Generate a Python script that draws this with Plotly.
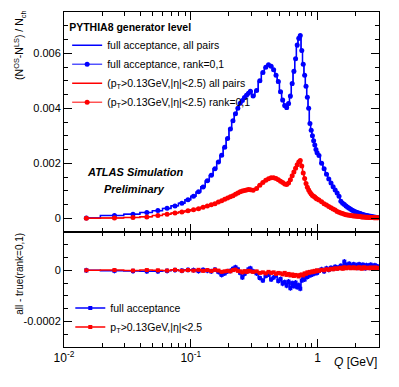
import plotly.graph_objects as go

# ---------------- data ----------------
q_bins = [0.015, 0.025, 0.035, 0.045, 0.055, 0.065, 0.075, 0.085, 0.095,
          0.105, 0.115, 0.125, 0.135, 0.145, 0.155, 0.165, 0.175, 0.185, 0.195,
          0.205, 0.215, 0.225, 0.235, 0.245, 0.255, 0.265, 0.275, 0.285, 0.295,
          0.31, 0.33, 0.35, 0.37, 0.39, 0.41, 0.43, 0.45, 0.47, 0.49,
          0.51, 0.53, 0.55, 0.57, 0.59, 0.61, 0.63, 0.65, 0.67, 0.69,
          0.71, 0.73, 0.75, 0.77, 0.79, 0.81, 0.83, 0.85, 0.87, 0.89,
          0.91, 0.93, 0.95, 0.97, 0.99,
          1.025, 1.075, 1.125, 1.175, 1.225, 1.275, 1.325, 1.375, 1.425, 1.475,
          1.525, 1.575, 1.625, 1.675, 1.725, 1.775, 1.825, 1.875, 1.925, 1.975,
          2.025, 2.075, 2.125, 2.175, 2.225, 2.275, 2.325, 2.375, 2.425, 2.475,
          2.525, 2.575, 2.625, 2.675, 2.725, 2.775, 2.825, 2.875, 2.925, 2.975]

full_rank01 = [0.00001, 0.00010, 0.00015, 0.00021, 0.00028, 0.00036, 0.00045, 0.00055, 0.00067,
               0.00080, 0.00096, 0.00114, 0.00136, 0.00156, 0.00180, 0.00205, 0.00229, 0.00258, 0.00290,
               0.00325, 0.00355, 0.00380, 0.00400, 0.00418, 0.00428, 0.00439, 0.00447, 0.00455, 0.00462,
               0.00445, 0.00465, 0.00500, 0.00530, 0.00549, 0.00558, 0.00553, 0.00540, 0.00520, 0.00497,
               0.00460, 0.00430, 0.00410, 0.00403, 0.00417, 0.00445, 0.00490, 0.00535, 0.00580, 0.00630,
               0.00655, 0.00665, 0.00610, 0.00560, 0.00520, 0.00480, 0.00440, 0.00400, 0.00345, 0.00320,
               0.00300, 0.00282, 0.00266, 0.00250, 0.00238,
               0.00228, 0.00200, 0.00180, 0.00160, 0.00143, 0.00128, 0.00115, 0.00103, 0.00092, 0.00080,
               0.00062, 0.00055, 0.00050, 0.00045, 0.00040, 0.00036, 0.00033, 0.00029, 0.00026, 0.00024,
               0.00022, 0.00020, 0.00018, 0.00017, 0.00015, 0.00014, 0.00012, 0.00011, 0.00010, 0.00009,
               0.00008, 0.00007, 0.00007, 0.00006, 0.00005, 0.00005, 0.00004, 0.00004, 0.00003, 0.00003]

cut_rank01 = [0.00000, 0.00001, 0.00003, 0.00005, 0.00010, 0.00015, 0.00019, 0.00023, 0.00027,
              0.00031, 0.00035, 0.00040, 0.00045, 0.00049, 0.00053, 0.00059, 0.00064, 0.00069, 0.00074,
              0.00078, 0.00082, 0.00087, 0.00092, 0.00096, 0.00099, 0.00101, 0.00103, 0.00105, 0.00104,
              0.00102, 0.00108, 0.00120, 0.00130, 0.00138, 0.00144, 0.00147, 0.00147, 0.00145, 0.00140,
              0.00135, 0.00130, 0.00125, 0.00123, 0.00128, 0.00140, 0.00155, 0.00168, 0.00182, 0.00195,
              0.00205, 0.00210, 0.00190, 0.00165, 0.00145, 0.00126, 0.00113, 0.00103, 0.00095, 0.00088,
              0.00083, 0.00080, 0.00077, 0.00073, 0.00070,
              0.00066, 0.00060, 0.00053, 0.00048, 0.00043, 0.00038, 0.00034, 0.00030, 0.00025, 0.00022,
              0.00019, 0.00017, 0.00015, 0.00013, 0.00012, 0.00011, 0.00010, 0.00009, 0.00008, 0.00008,
              0.00007, 0.00007, 0.00006, 0.00006, 0.00005, 0.00005, 0.00005, 0.00004, 0.00004, 0.00004,
              0.00003, 0.00003, 0.00003, 0.00003, 0.00003, 0.00002, 0.00002, 0.00002, 0.00002, 0.00002]

# all pairs minus true (rank=0,1)
full_diff = [0.0, -0.000002, -0.000003, -0.000004, -0.000004, -0.000002, 0.000001, -0.000001, 0.000002,
             0.000001, -0.000003, 0.000002, -0.000001, -0.000004, 0.000003, -0.000006, -0.000018, -0.000012, -0.000004,
             -0.000002, 0.000006, 0.000012, 0.000004, -0.000010, -0.000028, -0.000014, -0.000006, 0.000004, 0.000008,
             -0.000004, -0.000012, -0.000030, -0.000040, -0.000022, -0.000016, -0.000036, -0.000028, -0.000020, -0.000042,
             -0.000034, -0.000052, -0.000046, -0.000060, -0.000044, -0.000070, -0.000050, -0.000062, -0.000048, -0.000066,
             -0.000058, -0.000072, -0.000040, -0.000030, -0.000036, -0.000022, -0.000026, -0.000014, -0.000020, -0.000010,
             -0.000016, -0.000008, -0.000012, -0.000004, -0.000010,
             -0.000002, 0.000004, -0.000004, 0.000008, 0.000002, 0.000010, 0.000006, 0.000014, 0.000008, 0.000012,
             0.000018, 0.000010, 0.000034, 0.000022, 0.000016, 0.000026, 0.000012, 0.000020, 0.000024, 0.000014,
             0.000020, 0.000010, 0.000024, 0.000016, 0.000012, 0.000022, 0.000018, 0.000008, 0.000020, 0.000014,
             0.000018, 0.000010, 0.000022, 0.000014, 0.000016, 0.000008, 0.000020, 0.000012, 0.000016, 0.000014]

cut_diff = [0.0, 0.000001, -0.000001, 0.000001, 0.0, -0.000001, 0.000002, -0.000002, 0.000001,
            -0.000001, 0.000002, -0.000002, 0.000001, -0.000003, 0.000002, -0.000001, -0.000006, -0.000004, -0.000002,
            -0.000004, 0.000001, 0.000003, -0.000002, -0.000004, -0.000008, -0.000003, -0.000006, -0.000002, -0.000004,
            -0.000006, -0.000004, -0.000010, -0.000008, -0.000012, -0.000006, -0.000010, -0.000008, -0.000014, -0.000010,
            -0.000012, -0.000016, -0.000010, -0.000018, -0.000014, -0.000020, -0.000016, -0.000022, -0.000018, -0.000020,
            -0.000024, -0.000018, -0.000016, -0.000020, -0.000012, -0.000014, -0.000008, -0.000010, -0.000006, -0.000008,
            -0.000004, -0.000006, -0.000002, -0.000004, 0.0,
            -0.000002, 0.000002, 0.0, 0.000004, 0.000002, 0.000006, 0.000004, 0.000008, 0.000006, 0.000008,
            0.000010, 0.000006, 0.000012, 0.000008, 0.000010, 0.000012, 0.000008, 0.000010, 0.000012, 0.000008,
            0.000010, 0.000008, 0.000012, 0.000010, 0.000006, 0.000010, 0.000012, 0.000008, 0.000010, 0.000009,
            0.000010, 0.000008, 0.000011, 0.000009, 0.000010, 0.000008, 0.000011, 0.000010, 0.000009, 0.000010]

full_diff_err = 0.000010
cut_diff_err = 0.000006

full_allpairs = [r + d for r, d in zip(full_rank01, full_diff)]
cut_allpairs = [r + d for r, d in zip(cut_rank01, cut_diff)]

x_major = [0.01, 0.1, 1]
x_major_text = ["10<sup>-2</sup>", "10<sup>-1</sup>", "1"]
x_minor = [0.02, 0.03, 0.04, 0.05, 0.06, 0.07, 0.08, 0.09,
           0.2, 0.3, 0.4, 0.5, 0.6, 0.7, 0.8, 0.9, 2, 3]
top_y_major = [0, 0.002, 0.004, 0.006]
top_y_text = ["0", "0.002", "0.004", "0.006"]
top_y_minor = [-0.0005, 0.0005, 0.001, 0.0015, 0.0025, 0.003, 0.0035,
               0.0045, 0.005, 0.0055, 0.0065, 0.007, 0.0075]
bot_y_major = [-0.0002, 0]
bot_y_text = ["-0.0002", "0"]
bot_y_minor = [-0.0003, -0.00025, -0.00015, -0.0001, -0.00005, 0.00005, 0.0001, 0.00015]

BLUE = "#0000ff"
RED = "#ff0000"
FONT = "Liberation Sans, Arial, sans-serif"

fig = go.Figure()

# ---- top panel ----
fig.add_trace(go.Scatter(x=q_bins, y=full_allpairs, mode="lines", line=dict(color=BLUE, width=1.5, shape="hvh"),
                         name="full acceptance, all pairs", xaxis="x2", yaxis="y2", legend="legend"))
fig.add_trace(go.Scatter(x=q_bins, y=full_rank01, mode="lines+markers", line=dict(color=BLUE, width=1, shape="hvh"),
                         marker=dict(color=BLUE, size=5), name="full acceptance, rank=0,1",
                         xaxis="x2", yaxis="y2", legend="legend"))
fig.add_trace(go.Scatter(x=q_bins, y=cut_allpairs, mode="lines", line=dict(color=RED, width=1.5, shape="hvh"),
                         name="(p<sub>T</sub>>0.13GeV,|η|<2.5) all pairs", xaxis="x2", yaxis="y2", legend="legend"))
fig.add_trace(go.Scatter(x=q_bins, y=cut_rank01, mode="lines+markers", line=dict(color=RED, width=1, shape="hvh"),
                         marker=dict(color=RED, size=5), name="(p<sub>T</sub>>0.13GeV,|η|<2.5) rank=0,1",
                         xaxis="x2", yaxis="y2", legend="legend"))

# ---- bottom panel ----
fig.add_trace(go.Scatter(x=q_bins, y=full_diff, mode="lines+markers", line=dict(color=BLUE, width=1.5, shape="hvh"),
                         marker=dict(color=BLUE, size=4, symbol="square"),
                         error_y=dict(type="constant", value=full_diff_err, color=BLUE, thickness=1.2, width=0),
                         name="full acceptance", xaxis="x", yaxis="y", legend="legend2"))
fig.add_trace(go.Scatter(x=q_bins, y=cut_diff, mode="lines+markers", line=dict(color=RED, width=1.5, shape="hvh"),
                         marker=dict(color=RED, size=4, symbol="square"),
                         error_y=dict(type="constant", value=cut_diff_err, color=RED, thickness=1.2, width=0),
                         name="p<sub>T</sub>>0.13GeV,|η|<2.5", xaxis="x", yaxis="y", legend="legend2"))

axis_common = dict(showline=True, linecolor="black", linewidth=1, mirror="ticks", ticks="inside",
                   tickcolor="black", showgrid=False, zeroline=False)

split = 115 / 335

fig.update_layout(
    width=399, height=387,
    margin=dict(l=64, r=20, t=12, b=40),
    paper_bgcolor="white", plot_bgcolor="white",
    font=dict(family=FONT, size=11, color="black"),
    xaxis=dict(type="log", range=[-2, 0.484], domain=[0, 1], anchor="y",
               tickmode="array", tickvals=x_major, ticktext=x_major_text, ticklen=8,
               tickfont=dict(size=12),
               minor=dict(tickmode="array", tickvals=x_minor, ticks="inside", ticklen=4, tickcolor="black"),
               **axis_common),
    xaxis2=dict(type="log", range=[-2, 0.484], domain=[0, 1], anchor="y2", matches="x",
                tickmode="array", tickvals=x_major, showticklabels=False, ticklen=8,
                minor=dict(tickmode="array", tickvals=x_minor, ticks="inside", ticklen=4, tickcolor="black"),
                **axis_common),
    yaxis=dict(domain=[0, split], range=[-0.0003, 0.00015], anchor="x",
               tickmode="array", tickvals=bot_y_major, ticktext=bot_y_text, ticklen=8,
               minor=dict(tickmode="array", tickvals=bot_y_minor, ticks="inside", ticklen=4, tickcolor="black"),
               **axis_common),
    yaxis2=dict(domain=[split, 1], range=[-0.0005, 0.0075], anchor="x2",
                tickmode="array", tickvals=top_y_major, ticktext=top_y_text, ticklen=8,
                minor=dict(tickmode="array", tickvals=top_y_minor, ticks="inside", ticklen=4, tickcolor="black"),
                **axis_common),
    legend=dict(x=0.01, y=0.985, xanchor="left", yanchor="top", bgcolor="rgba(0,0,0,0)",
                font=dict(size=10.5, family=FONT),
                title=dict(text="<b>PYTHIA8 generator level</b>", font=dict(size=10.5, family=FONT)),
                tracegroupgap=0),
    legend2=dict(x=0.02, y=0.16, xanchor="left", yanchor="top", bgcolor="rgba(0,0,0,0)",
                 font=dict(size=10.5, family=FONT)),
    showlegend=True,
)

annotations = [
    dict(text="(N<sup>OS</sup>-N<sup>LS</sup>) / N<sub>ch</sub>", textangle=-90,
         xref="paper", yref="paper", x=-0.14, y=0.9015, xanchor="center", yanchor="middle",
         showarrow=False, font=dict(size=10.5)),
    dict(text="all - true(rank=0,1)", textangle=-90,
         xref="paper", yref="paper", x=-0.14, y=0.218, xanchor="center", yanchor="middle",
         showarrow=False, font=dict(size=10)),
    dict(text="<i>Q</i> [GeV]", xref="paper", yref="paper", x=1.0, y=-0.045,
         xanchor="right", yanchor="middle", showarrow=False, font=dict(size=12)),
    dict(text="<b><i>ATLAS Simulation</i></b>", xref="paper", yref="paper", x=0.225, y=0.522,
         xanchor="center", yanchor="middle", showarrow=False, font=dict(size=11)),
    dict(text="<b><i>Preliminary</i></b>", xref="paper", yref="paper", x=0.225, y=0.4716,
         xanchor="center", yanchor="middle", showarrow=False, font=dict(size=11)),
]
fig.update_layout(annotations=annotations)

fig.write_html("out.html", config={"displayModeBar": False},
               post_script="document.body.style.margin='0px';")
